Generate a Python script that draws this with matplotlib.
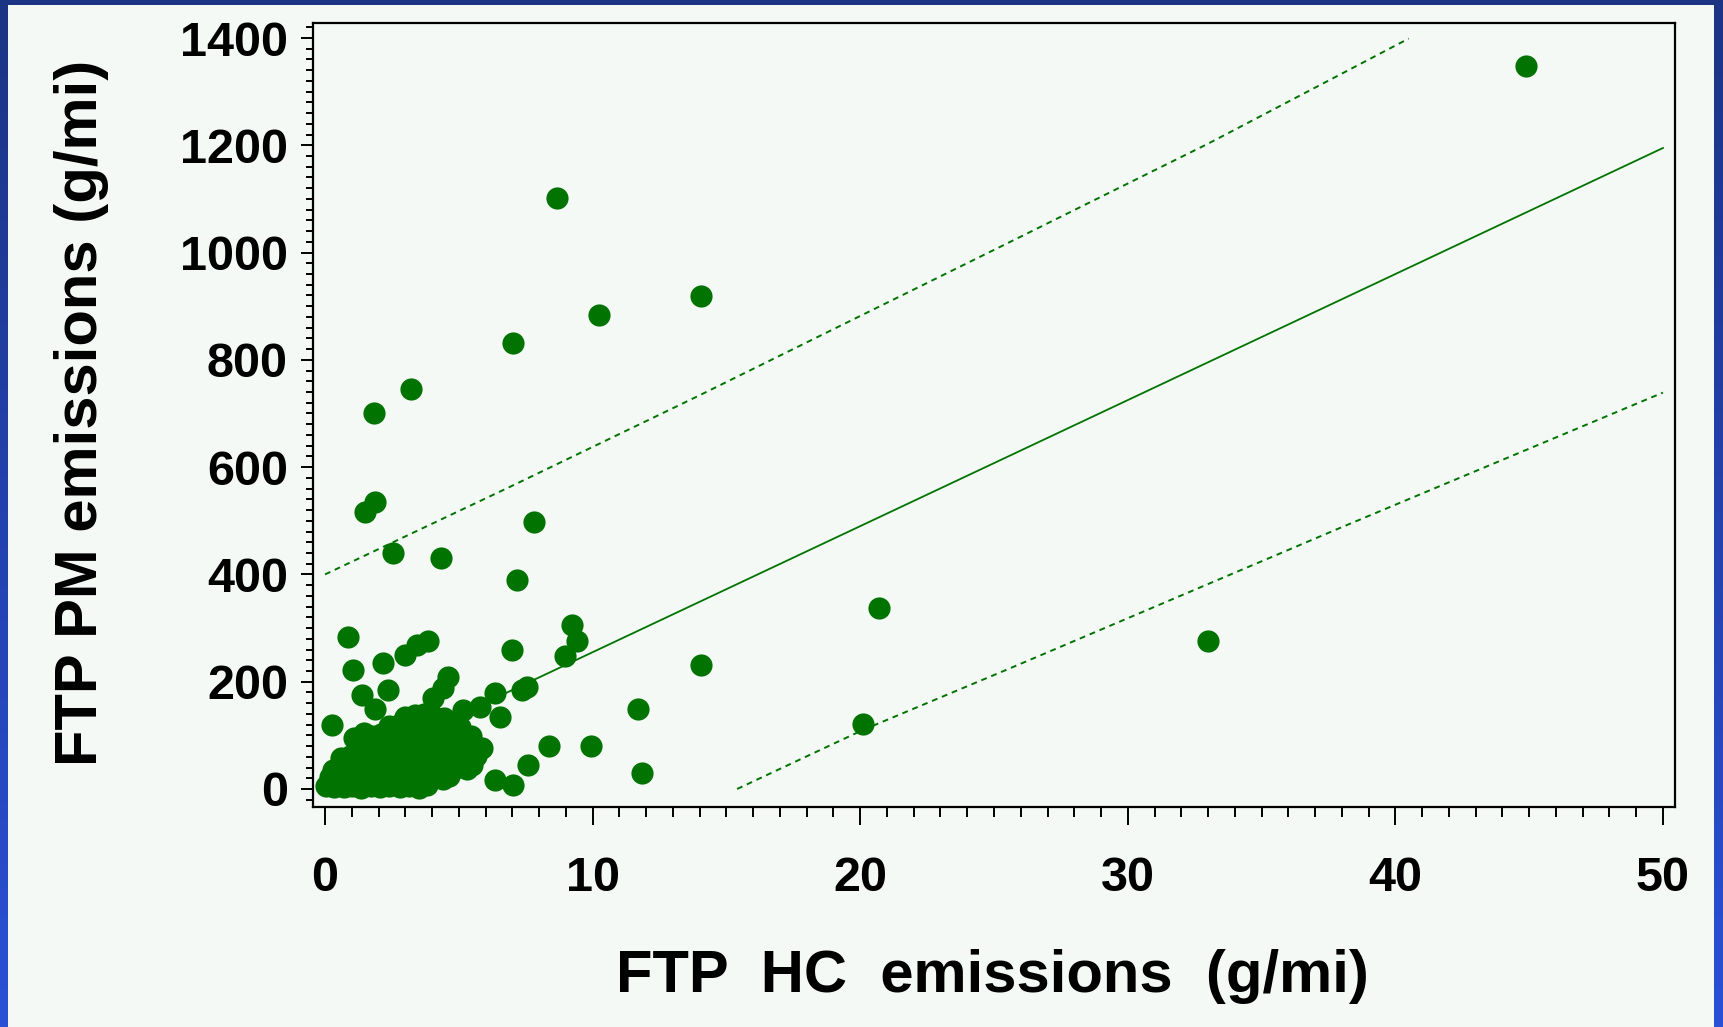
import numpy as np
import matplotlib
matplotlib.use('Agg')
from matplotlib import pyplot as plt
from matplotlib.ticker import MultipleLocator

# FTP HC (x) vs FTP PM (y) emissions, g/mi
# outliers / isolated points
hc_out = [44.9, 8.66, 14.04, 10.25, 7.01, 3.21, 1.84, 1.49, 1.87, 7.82, 2.55, 4.32,
          7.16, 20.69, 9.22, 9.40, 8.97, 33.0, 14.05, 11.68, 20.12, 8.38, 9.94, 11.83,
          0.87, 1.06, 2.15, 3.00, 3.43, 3.86, 6.98, 1.37, 1.87, 2.37, 4.61, 4.42,
          4.05, 5.17, 5.79, 6.35, 7.54, 7.35, 6.54, 0.25, 1.10, 1.45, 7.60, 6.35, 7.04]
pm_out = [1348, 1101, 919, 883, 832, 745, 700, 517, 535, 498, 440, 430,
          390, 337, 306, 275, 247, 275, 231, 150, 121, 80, 80, 29,
          283, 222, 235, 250, 268, 275, 259, 175, 150, 185, 209, 188,
          169, 147, 153, 178, 191, 185, 135, 119, 95, 104, 45, 17, 8]

# the dense cluster near the origin
hc_low = [0.05, 0.35, 0.7, 1.0, 1.35, 1.7, 2.05, 2.4, 2.8, 3.15, 3.5, 3.8,
          0.2, 0.5, 0.85, 1.2, 1.55, 1.9, 2.25, 2.6, 3.0, 3.35, 3.7, 4.05, 4.4, 4.65,
          0.3, 0.55, 0.9, 1.25, 1.6, 2.0, 2.35, 2.7, 3.05, 3.45, 3.8, 4.15, 4.5, 4.9, 5.3, 5.5,
          0.6, 0.95, 1.3, 1.7, 2.05, 2.4, 2.8, 3.15, 3.5, 3.9, 4.25, 4.6, 5.0, 5.35, 5.65,
          1.2, 1.55, 1.9, 2.3, 2.65, 3.0, 3.35, 3.7, 4.1, 4.45, 4.8, 5.2, 5.6, 5.85,
          1.75, 2.1, 2.5, 2.85, 3.2, 3.6, 3.95, 4.3, 4.7, 5.05, 5.45,
          2.4, 2.8, 3.15, 3.55, 3.9, 4.3, 4.7, 5.05,
          3.0, 3.35, 3.7, 4.05, 4.45]
pm_low = [5, 3, 4, 6, 2, 5, 3, 6, 4, 5, 2, 8,
          22, 18, 24, 20, 17, 23, 19, 21, 18, 24, 20, 22, 19, 25,
          35, 42, 38, 41, 36, 43, 39, 40, 37, 42, 38, 41, 39, 40, 37, 45,
          58, 62, 57, 61, 59, 63, 58, 60, 62, 57, 61, 59, 63, 58, 62,
          78, 82, 79, 83, 80, 77, 81, 84, 79, 82, 78, 81, 80, 76,
          98, 102, 99, 103, 100, 97, 101, 104, 99, 102, 98,
          118, 121, 117, 122, 119, 120, 118, 116,
          134, 137, 139, 136, 132]

# regression fit and prediction band, read as points along each curve
fit_x = [0, 50]
fit_y = [20, 1195]
upper_x = [0, 6.9, 14.0, 25.0, 33.0, 40.5]
upper_y = [400, 563, 734, 1005, 1203, 1399]
lower_x = [15.4, 20.1, 25.6, 37.9, 50.0]
lower_y = [0, 110, 225, 486, 739]

green = '#007300'
bg = '#f4f9f6'

plt.rcParams['font.family'] = ['Liberation Sans', 'DejaVu Sans']
plt.rcParams['font.weight'] = 'bold'

fig = plt.figure(figsize=(17.23, 10.27), dpi=100)

# blue slide background with a light panel on top
bgax = fig.add_axes([0, 0, 1, 1])
grad = np.linspace(0, 1, 256).reshape(-1, 1)
cmap = matplotlib.colors.LinearSegmentedColormap.from_list('slide', ['#1b3484', '#2a50d6'])
bgax.imshow(grad, aspect='auto', cmap=cmap, extent=[0, 1, 0, 1], origin='upper')
bgax.add_patch(plt.Rectangle((8 / 1723, 0), (1714 - 8) / 1723, 1 - 5 / 1027,
                             facecolor=bg, edgecolor='none'))
bgax.set_xlim(0, 1)
bgax.set_ylim(0, 1)
bgax.axis('off')

ax = fig.add_axes([313 / 1723, 1 - 807 / 1027, (1675 - 313) / 1723, (807 - 23) / 1027])
ax.set_facecolor(bg)

ax.plot(fit_x, fit_y, color=green, lw=1.3, zorder=2)
ax.plot(upper_x, upper_y, color=green, lw=1.4, ls=(0, (3, 2.5)), zorder=2)
ax.plot(lower_x, lower_y, color=green, lw=1.4, ls=(0, (3, 2.5)), zorder=2)

ax.scatter(hc_low, pm_low, s=255, color=green, linewidths=0, zorder=3)
ax.scatter(hc_out, pm_out, s=255, color=green, linewidths=0, zorder=3)

ax.set_xlim(-0.45, 50.45)
ax.set_ylim(-33.6, 1428)

ax.xaxis.set_major_locator(MultipleLocator(10))
ax.xaxis.set_minor_locator(MultipleLocator(1))
ax.yaxis.set_major_locator(MultipleLocator(200))
ax.yaxis.set_minor_locator(MultipleLocator(20))

ax.tick_params(axis='x', which='major', length=13, width=1.4, pad=22, labelsize=35)
ax.tick_params(axis='x', which='minor', length=7, width=1.4)
ax.tick_params(axis='y', which='major', length=9, width=1.4, pad=9, labelsize=35)
ax.tick_params(axis='y', which='minor', length=5, width=1.4)
for lab in ax.get_xticklabels() + ax.get_yticklabels():
    lab.set_fontweight('bold')

for sp in ax.spines.values():
    sp.set_linewidth(1.6)
    sp.set_color('black')

fig.text(992 / 1723, 1 - 976 / 1027, 'FTP  HC  emissions  (g/mi)', ha='center', va='center',
         fontsize=43, fontweight='bold')
fig.text(82 / 1723, 1 - 413 / 1027, 'FTP PM emissions (g/mi)', ha='center', va='center',
         rotation=90, fontsize=43, fontweight='bold')

fig.savefig('out.png', dpi=100, facecolor='#1b3484')
